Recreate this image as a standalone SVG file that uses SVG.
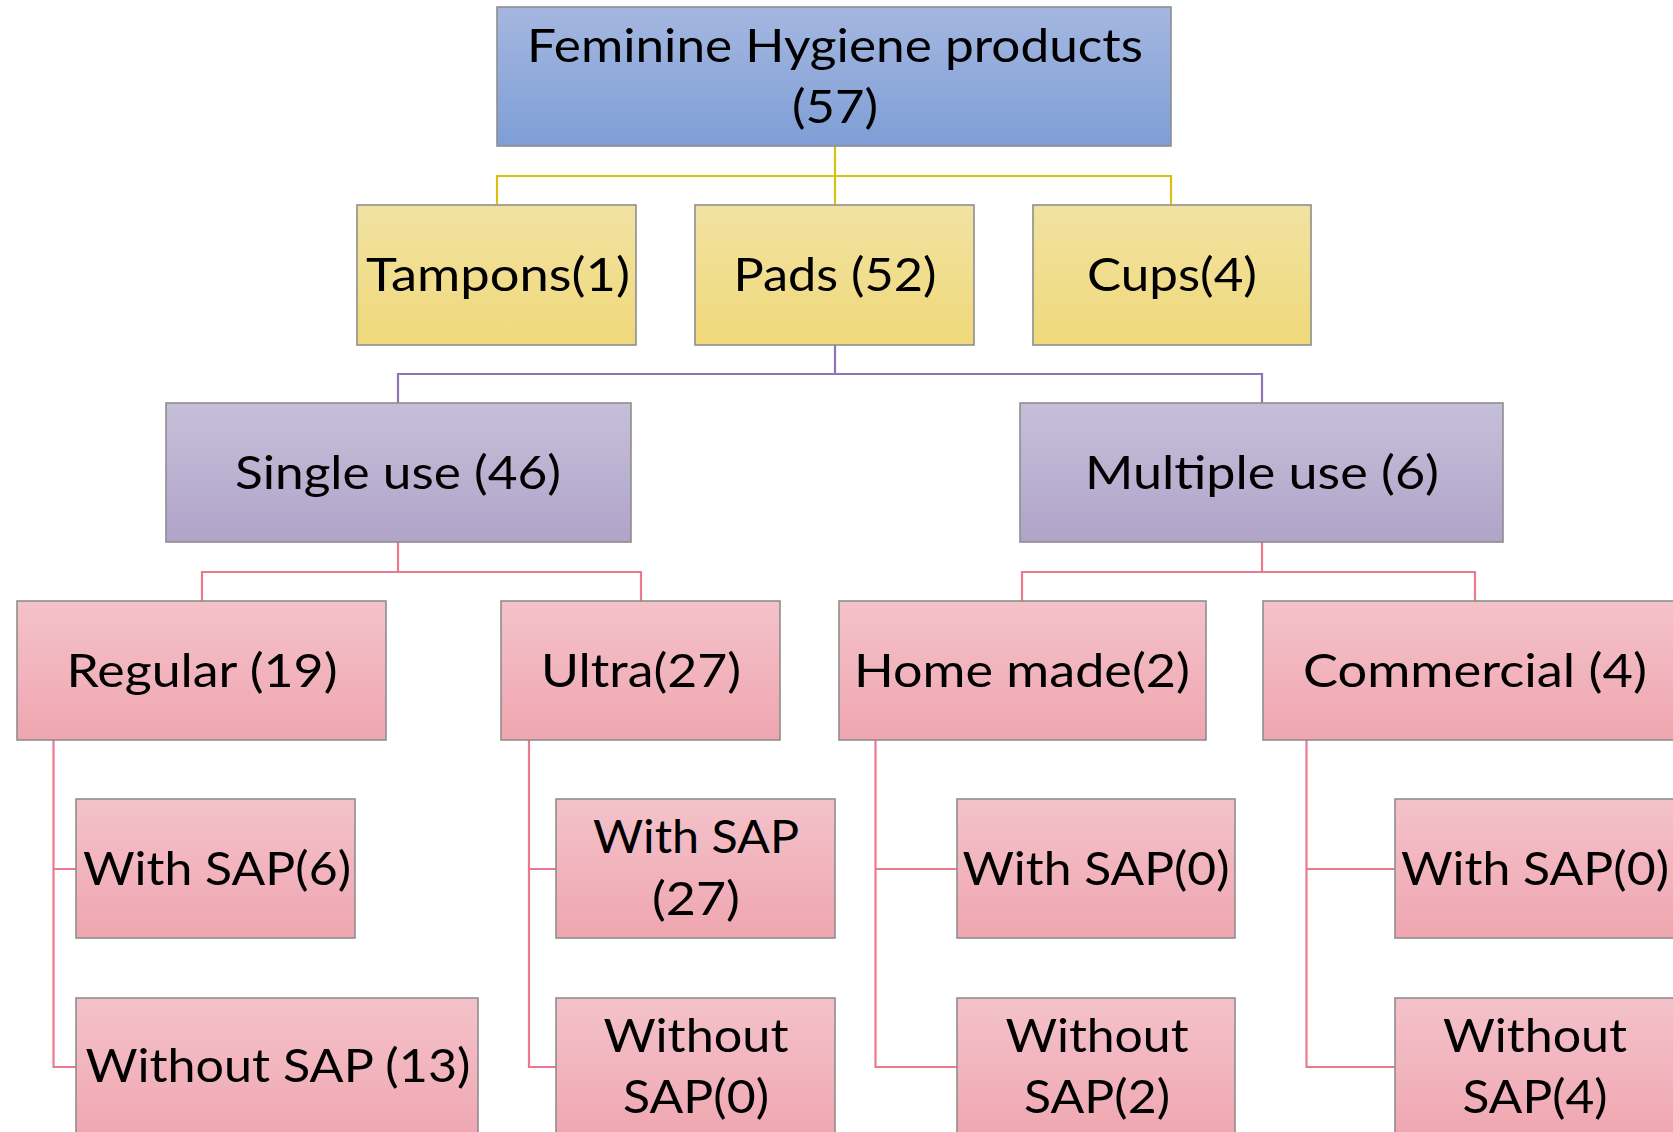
<svg xmlns="http://www.w3.org/2000/svg" width="1673" height="1132" viewBox="0 0 1673 1132">
<defs>
<linearGradient id="gBlue" x1="0" y1="0" x2="0" y2="1"><stop offset="0" stop-color="#A5B7E0"/><stop offset="1" stop-color="#7E9ED6"/></linearGradient>
<linearGradient id="gYellow" x1="0" y1="0" x2="0" y2="1"><stop offset="0" stop-color="#F2E2A2"/><stop offset="1" stop-color="#EFD97A"/></linearGradient>
<linearGradient id="gPurple" x1="0" y1="0" x2="0" y2="1"><stop offset="0" stop-color="#C6BFD9"/><stop offset="1" stop-color="#B0A4C9"/></linearGradient>
<linearGradient id="gPink" x1="0" y1="0" x2="0" y2="1"><stop offset="0" stop-color="#F4C2CA"/><stop offset="1" stop-color="#EFA6B0"/></linearGradient>
<style>
rect{stroke:#8E8E8E;stroke-width:1.6}
.blue{fill:url(#gBlue)}
.yel{fill:url(#gYellow)}
.pur{fill:url(#gPurple)}
.pink{fill:url(#gPink)}
text{font-family:Lato,"Open Sans","Liberation Sans",sans-serif;font-size:47px;fill:#000;text-anchor:middle}
.cy{stroke:#DDBE12;stroke-width:2.2;fill:none}
.cp{stroke:#8C74B6;stroke-width:2.2;fill:none}
.ck{stroke:#E97A8C;stroke-width:2.2;fill:none}
</style>
</defs>
<rect width="1673" height="1132" fill="#FFFFFF" style="stroke:none"/>
<g id="connectors">
<path class="cy" d="M835 146V176M497 204V176H1171V204M835 176V204"/>
<path class="cp" d="M835 345V374M398 403V374H1262V403"/>
<path class="ck" d="M398 542V572M202 601V572H641V601"/>
<path class="ck" d="M1262 542V572M1022 601V572H1475V601"/>
<path class="ck" d="M53.5 740V1067H76M53.5 869H76"/>
<path class="ck" d="M529 740V1067H556M529 869H556"/>
<path class="ck" d="M875.5 740V1067H957M875.5 869H957"/>
<path class="ck" d="M1306.5 740V1067H1395M1306.5 869H1395"/>
</g>
<g id="n-root"><rect class="blue" x="497" y="7" width="674" height="139"/>
<text x="835" y="62" textLength="616" lengthAdjust="spacingAndGlyphs">Feminine Hygiene products</text>
<text x="835" y="123" textLength="86" lengthAdjust="spacingAndGlyphs">(57)</text></g>
<g id="n-tampons"><rect class="yel" x="357" y="205" width="279" height="140"/>
<text x="498" y="291" textLength="264" lengthAdjust="spacingAndGlyphs">Tampons(1)</text></g>
<g id="n-pads"><rect class="yel" x="695" y="205" width="279" height="140"/>
<text x="835" y="291" textLength="203" lengthAdjust="spacingAndGlyphs">Pads (52)</text></g>
<g id="n-cups"><rect class="yel" x="1033" y="205" width="278" height="140"/>
<text x="1172" y="291" textLength="170" lengthAdjust="spacingAndGlyphs">Cups(4)</text></g>
<g id="n-single"><rect class="pur" x="166" y="403" width="465" height="139"/>
<text x="398" y="489" textLength="326" lengthAdjust="spacingAndGlyphs">Single use (46)</text></g>
<g id="n-multiple"><rect class="pur" x="1020" y="403" width="483" height="139"/>
<text x="1262" y="489" textLength="354" lengthAdjust="spacingAndGlyphs">Multiple use (6)</text></g>
<g id="n-regular"><rect class="pink" x="17" y="601" width="369" height="139"/>
<text x="202" y="687" textLength="271" lengthAdjust="spacingAndGlyphs">Regular (19)</text></g>
<g id="n-ultra"><rect class="pink" x="501" y="601" width="279" height="139"/>
<text x="641" y="687" textLength="200" lengthAdjust="spacingAndGlyphs">Ultra(27)</text></g>
<g id="n-homemade"><rect class="pink" x="839" y="601" width="367" height="139"/>
<text x="1022" y="687" textLength="336" lengthAdjust="spacingAndGlyphs">Home made(2)</text></g>
<g id="n-commercial"><rect class="pink" x="1263" y="601" width="430" height="139"/>
<text x="1475" y="687" textLength="344" lengthAdjust="spacingAndGlyphs">Commercial (4)</text></g>
<g id="n-reg-with"><rect class="pink" x="76" y="799" width="279" height="139"/>
<text x="217" y="885" textLength="268" lengthAdjust="spacingAndGlyphs">With SAP(6)</text></g>
<g id="n-reg-without"><rect class="pink" x="76" y="998" width="402" height="145"/>
<text x="278" y="1082" textLength="385" lengthAdjust="spacingAndGlyphs">Without SAP (13)</text></g>
<g id="n-ultra-with"><rect class="pink" x="556" y="799" width="279" height="139"/>
<text x="696" y="853" textLength="206" lengthAdjust="spacingAndGlyphs">With SAP</text>
<text x="696" y="915" textLength="88" lengthAdjust="spacingAndGlyphs">(27)</text></g>
<g id="n-ultra-without"><rect class="pink" x="556" y="998" width="279" height="145"/>
<text x="696" y="1052" textLength="185" lengthAdjust="spacingAndGlyphs">Without</text>
<text x="696" y="1113" textLength="146" lengthAdjust="spacingAndGlyphs">SAP(0)</text></g>
<g id="n-home-with"><rect class="pink" x="957" y="799" width="278" height="139"/>
<text x="1096" y="885" textLength="267" lengthAdjust="spacingAndGlyphs">With SAP(0)</text></g>
<g id="n-home-without"><rect class="pink" x="957" y="998" width="278" height="145"/>
<text x="1097" y="1052" textLength="183" lengthAdjust="spacingAndGlyphs">Without</text>
<text x="1097" y="1113" textLength="146" lengthAdjust="spacingAndGlyphs">SAP(2)</text></g>
<g id="n-comm-with"><rect class="pink" x="1395" y="799" width="290" height="139"/>
<text x="1535" y="885" textLength="268" lengthAdjust="spacingAndGlyphs">With SAP(0)</text></g>
<g id="n-comm-without"><rect class="pink" x="1395" y="998" width="290" height="145"/>
<text x="1535" y="1052" textLength="184" lengthAdjust="spacingAndGlyphs">Without</text>
<text x="1535" y="1113" textLength="145" lengthAdjust="spacingAndGlyphs">SAP(4)</text></g>
</svg>
